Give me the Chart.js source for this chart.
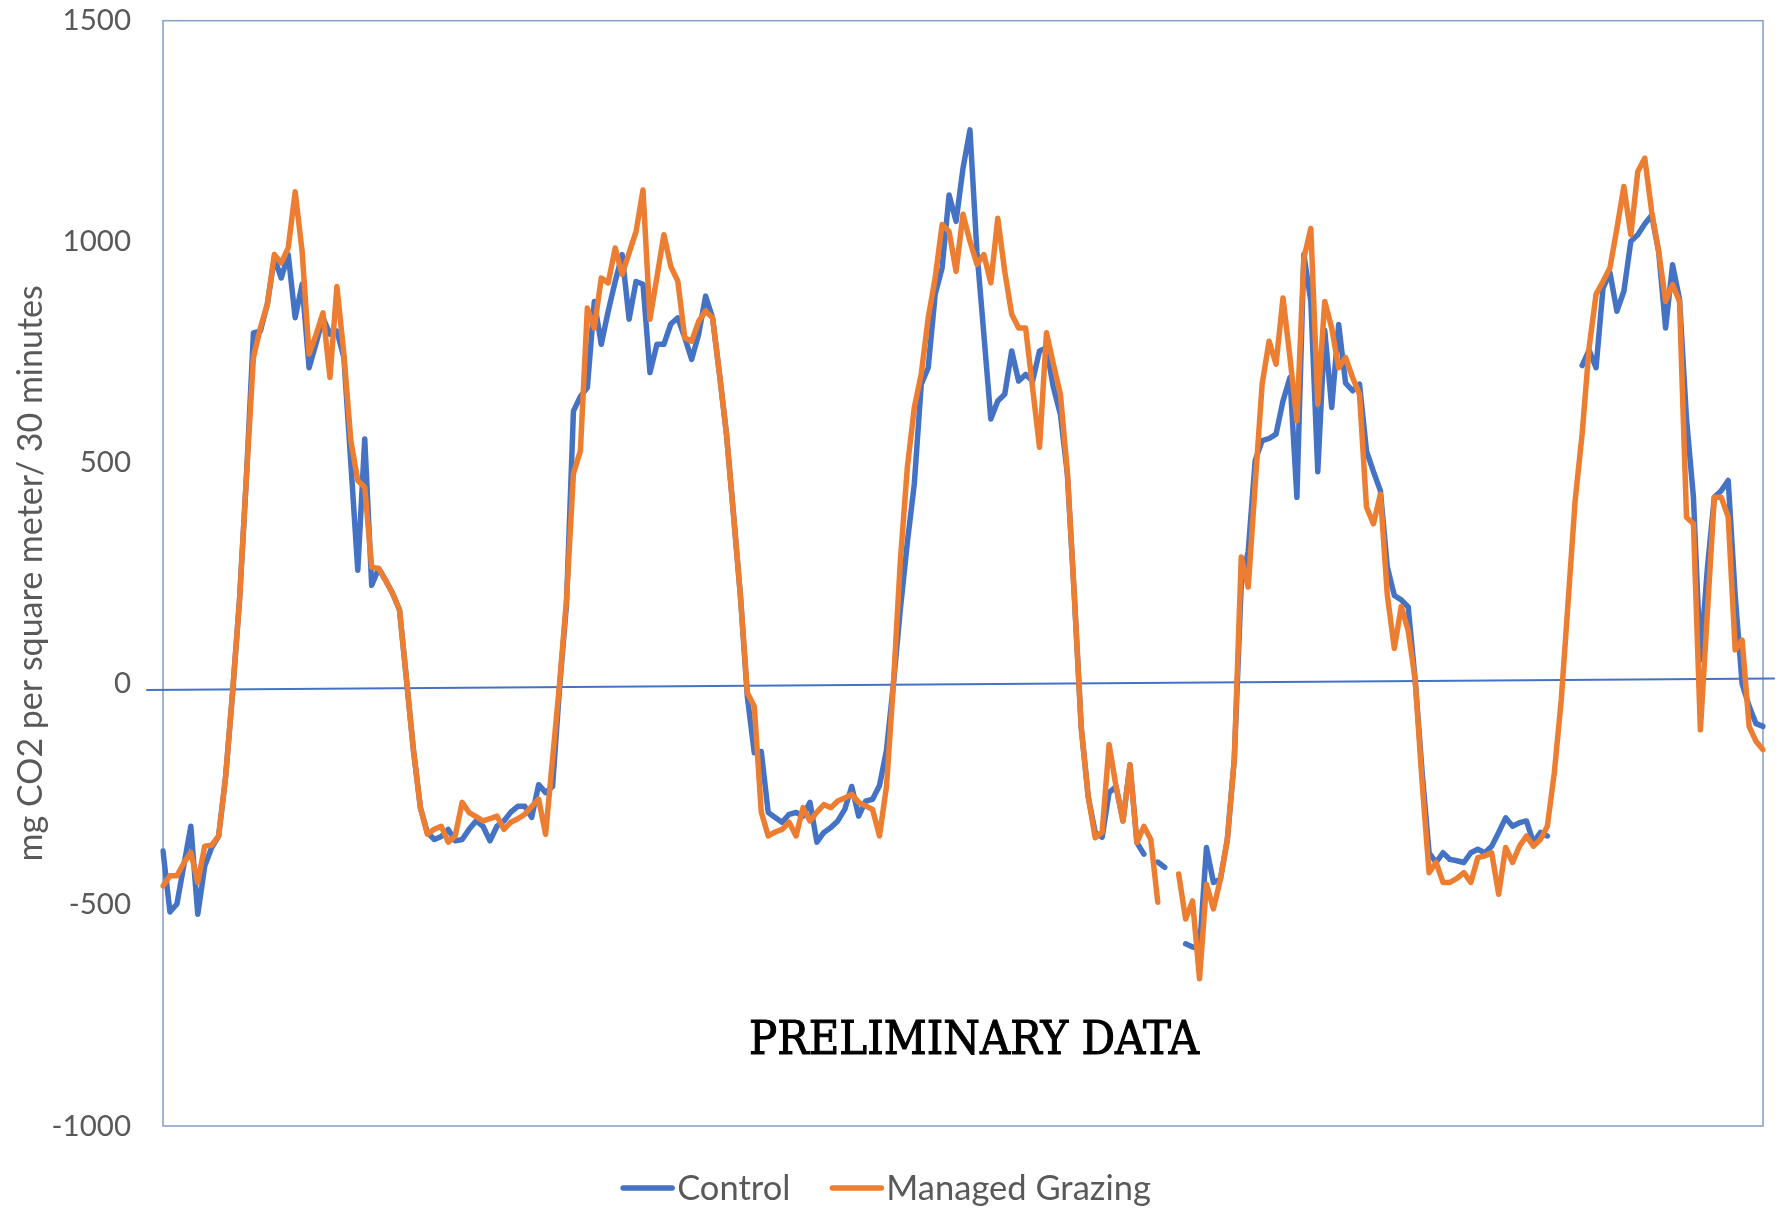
<!DOCTYPE html>
<html>
<head>
<meta charset="utf-8">
<title>CO2 flux: Control vs Managed Grazing</title>
<style>
  html, body { margin: 0; padding: 0; background: #ffffff; }
  #wrap { position: relative; width: 1786px; height: 1208px; }
  canvas { display: block; }
</style>
<script src="https://cdn.jsdelivr.net/npm/chart.js@4.4.1/dist/chart.umd.min.js"></script>
</head>
<body>
<div id="wrap"><canvas id="flux" width="1786" height="1208"></canvas></div>
<script>
// Half-hourly CO2 flux, mg CO2 per square meter per 30 minutes (null = missing record)
const control = [
  -378, -516, -498, -410, -322, -521, -412, -370, -344, -210,
  -20, 190, 470, 794, 798, 859, 963, 918, 971, 828,
  904, 715, 770, 828, 791, 798, 738, 500, 257, 554,
  223, 261, 234, 205, 167, 10, -150, -280, -336, -352,
  -345, -329, -355, -352, -329, -310, -322, -355, -322, -310,
  -290, -277, -277, -302, -228, -246, -232, -10, 180, 617,
  650, 670, 865, 768, 843, 910, 971, 825, 910, 904,
  704, 768, 768, 814, 828, 783, 734, 791, 877, 828,
  700, 565, 385, 200, -29, -156, -153, -291, -302, -313,
  -295, -291, -299, -268, -358, -336, -325, -310, -284, -232,
  -299, -265, -261, -230, -150, 0, 170, 320, 452, 678,
  715, 881, 941, 1106, 1046, 1166, 1253, 978, 790, 599,
  640, 655, 753, 685, 700, 685, 753, 760, 670, 610,
  475, 200, -100, -255, -336, -347, -246, -232, -310, -183,
  -359, -385, null, -403, -415, null, null, -588, -595, -600,
  -370, -449, -442, -352, -170, 227, 300, 505, 550, 555,
  565, 640, 693, 422, 971, 865, 480, 800, 625, 813,
  680, 663, 678, 527, 480, 437, 264, 200, 190, 174,
  9, -200, -382, -404, -382, -397, -400, -404, -382, -374,
  -382, -367, -336, -303, -322, -314, -310, -359, -336, -344,
  null, null, null, null, 720, 755, 715, 895, 930, 843,
  888, 1001, 1016, 1040, 1060, 978, 805, 948, 870, 600,
  422, 54, 260, 422, 437, 460, 200, 0, -50, -90,
  -96
];

const managedGrazing = [
  -457, -434, -434, -405, -381, -449, -367, -365, -344, -210,
  -20, 190, 470, 738, 805, 859, 971, 952, 986, 1113,
  978, 746, 790, 839, 693, 899, 746, 550, 460, 445,
  264, 261, 234, 205, 167, 10, -150, -280, -340, -329,
  -322, -358, -344, -268, -291, -300, -310, -305, -299, -329,
  -313, -305, -295, -277, -261, -340, -170, 0, 189, 476,
  527, 850, 805, 918, 907, 986, 926, 975, 1023, 1117,
  825, 920, 1016, 944, 911, 783, 775, 820, 843, 828,
  700, 565, 385, 200, -20, -51, -290, -344, -335, -329,
  -313, -344, -280, -310, -290, -273, -280, -265, -258, -250,
  -268, -276, -284, -344, -232, 0, 280, 490, 625, 701,
  828, 918, 1039, 1023, 933, 1062, 1001, 949, 971, 907,
  1053, 933, 836, 805, 805, 670, 535, 794, 723, 655,
  480, 200, -100, -255, -348, -336, -137, -232, -310, -183,
  -359, -322, -352, -494, null, null, -430, -532, -491, -667,
  -453, -509, -442, -352, -170, 287, 219, 450, 678, 775,
  723, 873, 738, 595, 963, 1030, 633, 865, 805, 715,
  738, 693, 655, 400, 362, 429, 200, 80, 175, 120,
  9, -224, -427, -404, -449, -449, -440, -427, -449, -393,
  -389, -382, -476, -370, -404, -367, -344, -367, -352, -322,
  -201, -36, 189, 415, 565, 760, 881, 910, 941, 1030,
  1125, 1016, 1159, 1189, 1068, 978, 865, 903, 865, 377,
  362, -104, 160, 422, 422, 377, 77, 99, -96, -130,
  -149
];

// One category per half-hour record
const periods = control.map((_, i) => i + 1);

const seriesNames = ['Control', 'Managed Grazing'];
const seriesColors = ['#4472C4', '#ED7D31'];
const yTickValues = [1500, 1000, 500, 0, -500, -1000];
const yAxisTitle = 'mg CO2 per square meter/ 30 minutes';
const stampText = 'PRELIMINARY DATA';

// Hand-drawn reference line near zero (index and value at each end)
const zeroLine = { fromIndex: -2.4, fromValue: -14, toIndex: 231.7, toValue: 12 };

const TEXT_GREY = '#595959';
const UI_FONT = 'Lato, "Open Sans", sans-serif';

const overlay = {
  id: 'overlay',
  beforeDatasetsDraw(chart) {
    const { ctx, chartArea: a, scales: { x, y } } = chart;
    ctx.save();
    // plot frame
    ctx.strokeStyle = '#8AA3C9';
    ctx.lineWidth = 1.6;
    ctx.strokeRect(a.left, a.top, a.right - a.left, a.bottom - a.top);
    // zero reference line
    ctx.strokeStyle = '#4472C4';
    ctx.lineWidth = 2;
    ctx.beginPath();
    ctx.moveTo(x.getPixelForValue(zeroLine.fromIndex), y.getPixelForValue(zeroLine.fromValue));
    ctx.lineTo(x.getPixelForValue(zeroLine.toIndex), y.getPixelForValue(zeroLine.toValue));
    ctx.stroke();
    ctx.restore();
  },
  afterDraw(chart) {
    const { ctx } = chart;
    ctx.save();

    // legend along the bottom
    const sampleLen = 53, textGap = 3, itemGap = 40, centerX = 886, rowY = 1188;
    ctx.font = '34.5px ' + UI_FONT;
    ctx.textBaseline = 'middle';
    ctx.textAlign = 'left';
    const ds = chart.data.datasets;
    const widths = ds.map(d => sampleLen + textGap + ctx.measureText(d.label).width);
    const total = widths.reduce((s, w) => s + w, 0) + itemGap * (ds.length - 1);
    let cx = centerX - total / 2;
    ds.forEach((d, i) => {
      ctx.strokeStyle = d.borderColor;
      ctx.lineWidth = 5.5;
      ctx.lineCap = 'round';
      ctx.beginPath();
      ctx.moveTo(cx + 2, rowY);
      ctx.lineTo(cx + sampleLen - 2, rowY);
      ctx.stroke();
      ctx.fillStyle = TEXT_GREY;
      ctx.fillText(d.label, cx + sampleLen + textGap, rowY + 1);
      cx += widths[i] + itemGap;
    });

    // stamp across the lower plot area
    ctx.font = '46px "DejaVu Serif", serif';
    const natural = ctx.measureText(stampText).width;
    ctx.translate(974, 1054);
    ctx.scale(450 / natural, 1);
    ctx.textAlign = 'center';
    ctx.textBaseline = 'alphabetic';
    ctx.fillStyle = '#000000';
    ctx.strokeStyle = '#000000';
    ctx.lineWidth = 1.1;
    ctx.fillText(stampText, 0, 0);
    ctx.strokeText(stampText, 0, 0);
    ctx.restore();
  }
};

new Chart(document.getElementById('flux'), {
  type: 'line',
  data: {
    labels: periods,
    datasets: [
      {
        label: seriesNames[0],
        data: control,
        borderColor: seriesColors[0],
        backgroundColor: seriesColors[0],
        borderWidth: 5.5,
        pointRadius: 0,
        tension: 0,
        spanGaps: false,
        borderJoinStyle: 'round',
        borderCapStyle: 'round',
        order: 1
      },
      {
        label: seriesNames[1],
        data: managedGrazing,
        borderColor: seriesColors[1],
        backgroundColor: seriesColors[1],
        borderWidth: 5.5,
        pointRadius: 0,
        tension: 0,
        spanGaps: false,
        borderJoinStyle: 'round',
        borderCapStyle: 'round',
        order: 0
      }
    ]
  },
  options: {
    responsive: false,
    animation: false,
    devicePixelRatio: 1,
    layout: { padding: { top: 20, right: 23, bottom: 82, left: 0 } },
    plugins: {
      legend: { display: false },
      tooltip: { enabled: false }
    },
    scales: {
      x: {
        type: 'category',
        display: false,
        offset: false
      },
      y: {
        min: -1000,
        max: 1500,
        afterBuildTicks: (scale) => { scale.ticks = yTickValues.map(v => ({ value: v })); },
        afterFit: (scale) => { scale.width = 163; },
        grid: { display: false, drawTicks: true, tickLength: 29 },
        border: { display: false },
        ticks: {
          padding: 3,
          color: TEXT_GREY,
          font: { family: UI_FONT, size: 29.5 },
          callback: (v) => String(v)
        },
        title: {
          display: true,
          text: yAxisTitle,
          color: TEXT_GREY,
          font: { family: UI_FONT, size: 34 },
          padding: { top: 11, bottom: 0 }
        }
      }
    }
  },
  plugins: [overlay]
});
</script>
</body>
</html>
